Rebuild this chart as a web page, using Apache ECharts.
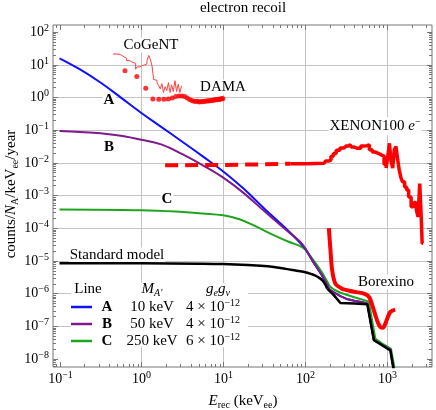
<!DOCTYPE html>
<html>
<head>
<meta charset="utf-8">
<script src="https://cdn.jsdelivr.net/npm/echarts@6/dist/echarts.min.js"></script>
<style>
  html, body { margin: 0; padding: 0; background: #fff; }
  #main { width: 436px; height: 410px; }
</style>
</head>
<body>
<div id="main"></div>
<script>
// frame of the plot (keV_ee, counts/N_A/keV_ee/year)
const xRange = [0.0832, 3548];
const yRange = [5.62e-9, 162];

// decades that get a label, decades that get a grid line
const xTickExp = [-1, 0, 1, 2, 3];
const yTickExp = [-8, -7, -6, -5, -4, -3, -2, -1, 0, 1, 2];
const xGridExp = [0, 1, 2, 3];
const yGridExp = [-7, -6, -5, -4, -3, -2, -1, 0, 1];

// line A  (M = 10 keV), smooth part
const aE    = [0.1, 0.178, 0.316, 0.562, 1, 1.78, 3.16, 5.62, 10, 17.8, 31.6, 56.2, 79.4, 100];
const aRate = [15.5, 7.08, 2.82, 0.977, 0.331, 0.120, 0.0437, 0.0155, 5.37e-3, 1.58e-3, 3.98e-4, 1.05e-4, 4.47e-5, 2.4e-5];
// line B  (M = 50 keV), smooth part
const bE    = [0.1, 0.178, 0.316, 0.562, 1, 1.78, 3.16, 5.62, 10, 17.8, 31.6, 56.2, 87, 100];
const bRate = [0.093, 0.087, 0.079, 0.066, 0.050, 0.0355, 0.0182, 8.3e-3, 3.47e-3, 1.17e-3, 3.3e-4, 9.5e-5, 3.8e-5, 2.4e-5];
// common high-energy tail of A and B
const tailE    = [100, 126, 158, 200, 224, 270, 320, 400, 500, 575, 692, 890, 1100, 1200, 1300];
const tailRate = [2.4e-5, 9.0e-6, 3.8e-6, 1.3e-6, 1.07e-6, 8.3e-7, 6.8e-7, 6.0e-7, 5.4e-7, 4.9e-7, 3.8e-8, 2.6e-8, 1.9e-8, 5e-9, 1.3e-9];
// line C  (M = 250 keV)
const cE    = [0.1, 1, 3.2, 5.6, 10, 15.8, 25, 40, 63, 87, 100, 126, 158, 200];
const cRate = [3.7e-4, 3.5e-4, 3.1e-4, 2.8e-4, 2.45e-4, 1.86e-4, 1.12e-4, 6.3e-5, 3.8e-5, 2.8e-5, 2.2e-5, 1.05e-5, 4.7e-6, 1.66e-6];
const cTailE    = [200, 224, 270, 400, 600, 720, 900, 1120, 1230, 1330];
const cTailRate = [1.66e-6, 1.32e-6, 1.05e-6, 7.6e-7, 5.6e-7, 4.2e-8, 2.8e-8, 2.0e-8, 5.6e-9, 1.4e-9];
// standard model
const smE    = [0.1, 1, 5, 10, 20, 35, 50, 70, 95, 120, 140, 165, 186];
const smRate = [8.3e-6, 8.3e-6, 8.1e-6, 7.9e-6, 7.4e-6, 6.8e-6, 6.0e-6, 5.2e-6, 4.6e-6, 3.9e-6, 3.3e-6, 2.4e-6, 1.4e-6];
const smTailE    = [186, 224, 270, 400, 575, 692, 890, 1100, 1200, 1300];
const smTailRate = [1.4e-6, 8.9e-7, 5.1e-7, 4.9e-7, 4.7e-7, 3.7e-8, 2.5e-8, 1.8e-8, 5e-9, 1.3e-9];

// CoGeNT
const cogeE    = [0.45, 0.50, 0.55, 0.60, 0.66, 0.72, 0.79, 0.85, 0.89, 0.95, 1.02, 1.10, 1.17, 1.23, 1.29, 1.35, 1.41, 1.48, 1.55, 1.62, 1.70, 1.78, 1.86, 1.95, 2.04, 2.14, 2.24, 2.34, 2.45, 2.57, 2.69, 2.82, 2.95, 3.09];
const cogeRate = [21, 20.4, 17.8, 15.5, 13.2, 11.5, 11.0, 7.2, 8.5, 9.3, 9.8, 10.5, 13.2, 19, 14, 8.9, 3.5, 3.3, 2.8, 2.3, 1.8, 2.6, 1.4, 2.1, 1.6, 2.8, 1.4, 2.4, 1.5, 3.2, 1.5, 2.5, 1.4, 2.2];
// DAMA
const damaE    = [0.63, 0.88, 1.13, 1.38, 1.63, 1.88, 2.13, 2.38, 2.63, 2.88, 3.13, 3.38, 3.63, 3.88, 4.13, 4.38, 4.63, 4.88, 5.13, 5.38, 5.63, 5.88, 6.13, 6.38, 6.63, 6.88, 7.13, 7.38, 7.63, 7.88, 8.13, 8.38, 8.63, 8.88, 9.13, 9.38, 9.63, 9.88];
const damaRate = [6.5, 4.3, 1.9, 0.89, 0.87, 0.87, 0.89, 0.95, 1.05, 1.1, 1.1, 1.05, 0.95, 0.85, 0.80, 0.76, 0.74, 0.75, 0.72, 0.74, 0.73, 0.76, 0.75, 0.78, 0.77, 0.79, 0.78, 0.81, 0.83, 0.82, 0.85, 0.84, 0.87, 0.86, 0.89, 0.88, 0.91, 0.90];
// XENON100 e- (dashed below threshold, solid above)
const xeDashE    = [1.95, 10, 32, 66];
const xeDashRate = [8.3e-3, 8.5e-3, 8.9e-3, 9.3e-3];
const xeE    = [66, 170, 186, 200, 214, 229, 251, 282, 316, 355, 380, 417, 457, 501, 550, 589, 631, 692, 759, 832, 891, 955, 1000, 1047, 1096, 1148, 1202, 1259, 1318, 1380, 1445, 1514, 1585, 1698, 1778, 1905, 2042, 2138, 2239, 2344, 2455, 2570, 2630, 2754];
const xeRate = [9.3e-3, 9.5e-3, 0.0112, 0.012, 0.0158, 0.019, 0.024, 0.028, 0.032, 0.035, 0.030, 0.0275, 0.0275, 0.032, 0.033, 0.035, 0.025, 0.021, 0.019, 0.017, 0.0158, 8.9e-3, 6.8e-3, 0.0158, 0.039, 0.0112, 6.8e-3, 0.025, 0.031, 0.0126, 5.9e-3, 3.5e-3, 2.6e-3, 1.8e-3, 1.45e-3, 8.9e-4, 4.5e-4, 5.6e-4, 6.3e-4, 3.5e-4, 2.2e-4, 2.3e-3, 3.5e-4, 3.4e-5];
// Borexino
const boreE    = [195, 204, 214, 234, 282, 324, 398, 513, 589, 631, 724, 776, 832, 891, 955, 1096, 1259];
const boreRate = [1e-4, 2.1e-5, 5.1e-6, 2.0e-6, 1.4e-6, 1.26e-6, 1.12e-6, 1.0e-6, 8.3e-7, 6.2e-7, 2.1e-7, 1.26e-7, 9.3e-8, 8.9e-8, 1.2e-7, 2.7e-7, 3.2e-7];

const SERIF = "'Liberation Serif','Times New Roman',serif";
const gridColor = '#c4c4c4';
const tickColor = '#777';
const BLUE = '#1010ff', PURPLE = '#7d1a8c', GREEN = '#1ea51e';

const pair = (xs, ys) => xs.map((x, i) => [x, ys[i]]);
const supText = e => '{b|10}{s|' + (e < 0 ? '\u2212' + (-e) : e) + '}';
const tickRich = {
  b: { fontSize: 14, fontFamily: SERIF, lineHeight: 18, fill: '#000' },
  s: { fontSize: 10, fontFamily: SERIF, lineHeight: 10, verticalAlign: 'top', fill: '#000' }
};

function minorTicks(lo, hi) {
  const out = [];
  for (let d = -10; d <= 4; d++) {
    for (let k = 2; k <= 9; k++) {
      const v = k * Math.pow(10, d);
      if (v > lo && v < hi) out.push(v);
    }
  }
  return out;
}

// frame ticks, grid lines and tick labels
function renderAxes(params, api) {
  const cs = params.coordSys;
  const L = cs.x, T = cs.y, R = cs.x + cs.width, B = cs.y + cs.height;
  const kids = [];
  const ln = (x1, y1, x2, y2, c) => kids.push({
    type: 'line', shape: { x1, y1, x2, y2 }, style: { stroke: c, lineWidth: 1 }
  });
  const px = v => Math.round(api.coord([v, 1])[0]) + 0.5;
  const py = v => Math.round(api.coord([1, v])[1]) + 0.5;

  xGridExp.forEach(e => { const x = px(Math.pow(10, e)); ln(x, T, x, B, gridColor); });
  yGridExp.forEach(e => { const y = py(Math.pow(10, e)); ln(L, y, R, y, gridColor); });

  xTickExp.forEach(e => {
    const x = px(Math.pow(10, e));
    ln(x, B, x, B - 5, tickColor); ln(x, T, x, T + 5, tickColor);
    kids.push({ type: 'text', x: x, y: B + 12,
      style: { text: supText(e), rich: tickRich, align: 'center', verticalAlign: 'middle' } });
  });
  minorTicks(xRange[0], xRange[1]).forEach(v => {
    const x = px(v);
    ln(x, B, x, B - 3, tickColor); ln(x, T, x, T + 3, tickColor);
  });
  yTickExp.forEach(e => {
    const y = py(Math.pow(10, e));
    ln(L, y, L + 5, y, tickColor); ln(R, y, R - 5, y, tickColor);
    kids.push({ type: 'text', x: L - 4, y: y,
      style: { text: supText(e), rich: tickRich, align: 'right', verticalAlign: 'middle' } });
  });
  minorTicks(yRange[0], yRange[1]).forEach(v => {
    const y = py(v);
    ln(L, y, L + 3, y, tickColor); ln(R, y, R - 3, y, tickColor);
  });
  return { type: 'group', children: kids };
}

const lineSeries = (name, data, color, width, z, extra) => Object.assign({
  name, type: 'line', data, showSymbol: false, z,
  lineStyle: { color, width }, itemStyle: { color }, silent: true
}, extra || {});
const smoothed = { smooth: 0.4 };

const textEl = (x, y, text, rich, extra) => ({
  type: 'text', x, y, z: 2,
  style: Object.assign({ text, rich, fontFamily: SERIF, fontSize: 15, fill: '#000',
    align: 'center', verticalAlign: 'middle' }, extra || {})
});

const annRich = {
  n: { fontSize: 15, fontFamily: SERIF, lineHeight: 18, fill: '#000' },
  i: { fontSize: 15, fontFamily: SERIF, fontStyle: 'italic', lineHeight: 18, fill: '#000' },
  bo: { fontSize: 15, fontFamily: SERIF, fontWeight: 'bold', lineHeight: 18, fill: '#000' },
  sup: { fontSize: 10, fontFamily: SERIF, lineHeight: 10, verticalAlign: 'top', fill: '#000' },
  sub: { fontSize: 10, fontFamily: SERIF, lineHeight: 10, verticalAlign: 'bottom', fill: '#000' },
  subi: { fontSize: 10, fontFamily: SERIF, fontStyle: 'italic', lineHeight: 10, verticalAlign: 'bottom', fill: '#000' }
};
const boxed = { backgroundColor: '#fff', padding: [0, 1] };

const chart = echarts.init(document.getElementById('main'));
chart.setOption({
  animation: false,
  backgroundColor: '#fff',
  grid: { left: 53, top: 25, width: 379, height: 342, show: true, borderColor: '#777', borderWidth: 1 },
  xAxis: { type: 'log', logBase: 10, min: xRange[0], max: xRange[1],
    axisLine: { show: false }, axisTick: { show: false }, axisLabel: { show: false }, splitLine: { show: false } },
  yAxis: { type: 'log', logBase: 10, min: yRange[0], max: yRange[1],
    axisLine: { show: false }, axisTick: { show: false }, axisLabel: { show: false }, splitLine: { show: false } },
  series: [
    { type: 'custom', renderItem: renderAxes, data: [[1, 1]], z: 0, clip: false, silent: true },
    lineSeries('C', pair(cE, cRate), GREEN, 2, 3, smoothed),
    lineSeries('C tail', pair(cTailE, cTailRate), GREEN, 2, 3),
    lineSeries('A', pair(aE, aRate), BLUE, 2, 4, smoothed),
    lineSeries('A tail', pair(tailE, tailRate), BLUE, 2, 4),
    lineSeries('B', pair(bE, bRate), PURPLE, 2, 5, smoothed),
    lineSeries('B tail', pair(tailE, tailRate), PURPLE, 2, 5),
    lineSeries('Standard model', pair(smE, smRate), '#000', 2.5, 6, smoothed),
    lineSeries('Standard model tail', pair(smTailE, smTailRate), '#000', 2.5, 6),
    lineSeries('CoGeNT', pair(cogeE, cogeRate), '#ff4040', 1, 7, { step: 'end' }),
    { name: 'DAMA', type: 'scatter', data: pair(damaE, damaRate), symbolSize: 5, z: 7, silent: true,
      itemStyle: { color: '#ff0000' } },
    lineSeries('XENON100 dashed', pair(xeDashE, xeDashRate), '#ff0000', 4, 7,
      { lineStyle: { color: '#ff0000', width: 4, type: [13, 7] } }),
    lineSeries('XENON100', pair(xeE, xeRate), '#ff0000', 3.5, 7, { step: 'middle' }),
    lineSeries('Borexino', pair(boreE, boreRate), '#ff0000', 4, 8, { smooth: 0.3 })
  ],
  graphic: [
    textEl(243, 8, 'electron recoil'),
    // axis titles
    textEl(243, 401, '{i|E}{sub|rec}{n| (keV}{sub|ee}{n|)}', annRich),
    Object.assign(textEl(11, 194, '{n|counts/}{i|N}{sub|A}{n|/keV}{sub|ee}{n|/year}', annRich), { rotation: Math.PI / 2 }),
    // annotations
    textEl(151, 45, 'CoGeNT', null, boxed),
    textEl(223, 87, 'DAMA', null, boxed),
    textEl(375, 126, '{n|XENON100 }{i|e}{sup|\u2212}', annRich, boxed),
    textEl(386, 282, 'Borexino', null, boxed),
    textEl(117, 255, 'Standard model', null, boxed),
    textEl(109, 100, '{bo|A}', annRich, boxed),
    textEl(109, 147, '{bo|B}', annRich, boxed),
    textEl(167, 199, '{bo|C}', annRich, boxed),
    // legend table
    { type: 'rect', z: 2, shape: { x: 71, y: 283, width: 177, height: 64 }, style: { fill: '#fff' } },
    textEl(88, 289, 'Line'),
    textEl(152, 289, '{i|M}{subi|A\u2032}', annRich),
    textEl(218, 289, '{i|g}{subi|e}{i|g}{subi|\u03bd}', annRich),
    { type: 'line', z: 3, shape: { x1: 71, y1: 307, x2: 92, y2: 307 }, style: { stroke: BLUE, lineWidth: 2.5 } },
    { type: 'line', z: 3, shape: { x1: 71, y1: 324, x2: 92, y2: 324 }, style: { stroke: PURPLE, lineWidth: 2.5 } },
    { type: 'line', z: 3, shape: { x1: 71, y1: 341, x2: 92, y2: 341 }, style: { stroke: GREEN, lineWidth: 2.5 } },
    textEl(107, 307, '{bo|A}', annRich),
    textEl(107, 324, '{bo|B}', annRich),
    textEl(107, 341, '{bo|C}', annRich),
    textEl(152, 307, '10 keV'),
    textEl(152, 324, '50 keV'),
    textEl(152, 341, '250 keV'),
    textEl(213, 307, '{n|4 \u00d7 10}{sup|\u221212}', annRich),
    textEl(213, 324, '{n|4 \u00d7 10}{sup|\u221212}', annRich),
    textEl(213, 341, '{n|6 \u00d7 10}{sup|\u221212}', annRich)
  ]
});
</script>
</body>
</html>
